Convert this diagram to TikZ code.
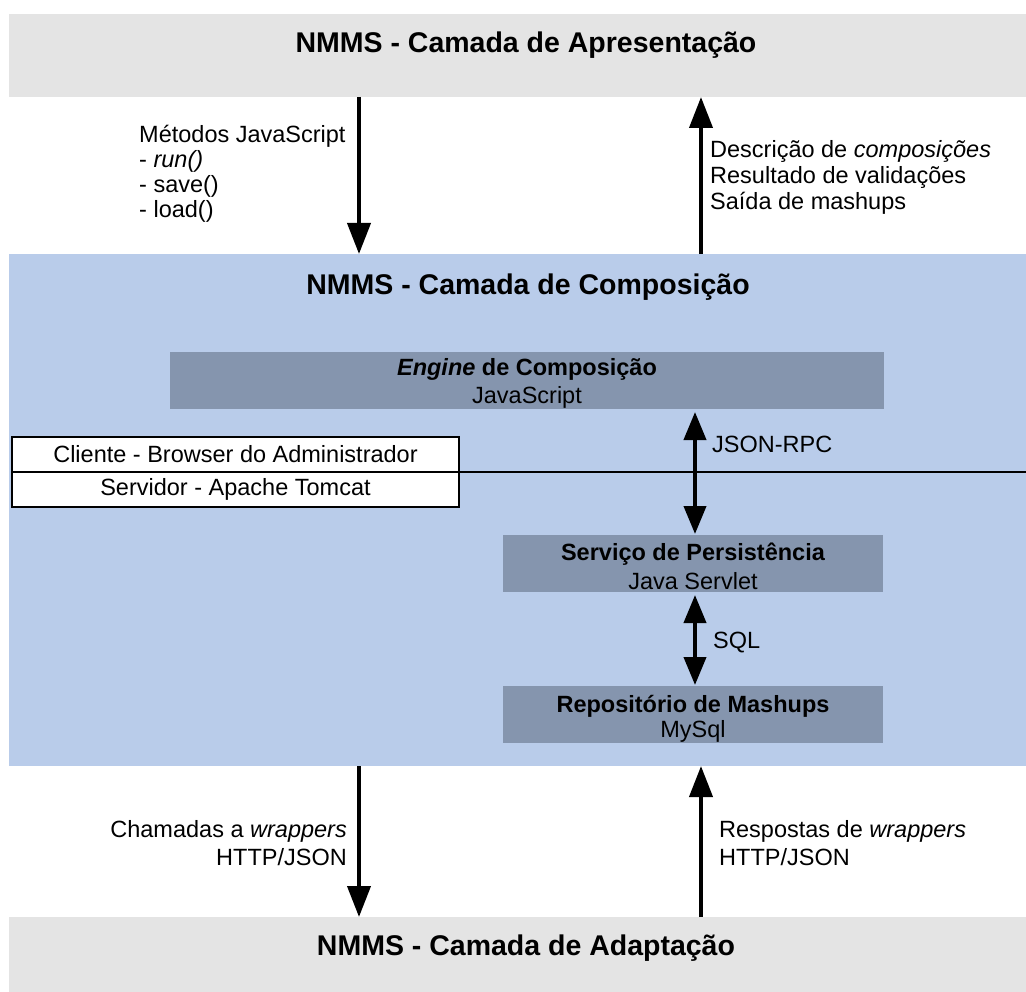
\documentclass[tikz,border=0pt]{standalone}
\usepackage{fontspec}
\setmainfont{Liberation Sans}
\usetikzlibrary{arrows.meta}
\definecolor{bandgray}{RGB}{228,228,228}
\definecolor{bandblue}{RGB}{185,204,234}
\definecolor{boxslate}{RGB}{133,149,174}
\begin{document}
\begin{tikzpicture}[x=1pt,y=-1pt,
  rectbox/.style={draw=none,inner sep=0pt,outer sep=0pt,anchor=north west},
  cellbox/.style={draw=black,line width=1.8pt,fill=white,inner sep=0pt,outer sep=0pt,
    anchor=north west,minimum width=447pt,minimum height=35pt,
    font=\fontsize{23.5}{25}\selectfont},
  title/.style={anchor=base,inner sep=0pt,font=\fontsize{28.5}{32}\selectfont\bfseries},
  txt/.style={anchor=base,inner sep=0pt,font=\fontsize{23.5}{25}\selectfont},
  txtb/.style={txt,font=\fontsize{23.5}{25}\selectfont\bfseries},
  lbl/.style={inner sep=0pt,font=\fontsize{23.5}{25}\selectfont},
  bigarrow/.style={line width=4pt,-{Triangle[width=23pt,length=31pt]}},
  duplex/.style={line width=4pt,{Triangle[width=22pt,length=28pt]}-{Triangle[width=22pt,length=28pt]},shorten <=3pt,shorten >=1pt}]
\useasboundingbox (0,0) rectangle (1026,992);

% layer bands
\node[rectbox,fill=bandgray,minimum width=1017pt,minimum height=83pt] (pres) at (9,14) {};
\node[rectbox,fill=bandblue,minimum width=1017pt,minimum height=512pt] (comp) at (9,254) {};
\node[rectbox,fill=bandgray,minimum width=1017pt,minimum height=75pt] (adap) at (9,917) {};

\node[title] (presT) at (526,53) {NMMS - Camada de Apresentação};
\node[title] (compT) at (528,295) {NMMS - Camada de Composição};
\node[title] (adapT) at (526,955) {NMMS - Camada de Adaptação};

% components inside the composition layer
\node[rectbox,fill=boxslate,minimum width=714pt,minimum height=57pt] (eng) at (170,352) {};
\node[rectbox,fill=boxslate,minimum width=380pt,minimum height=57pt] (serv) at (503,535) {};
\node[rectbox,fill=boxslate,minimum width=380pt,minimum height=57pt] (repo) at (503,686) {};

\node[txtb] (engA) at (527,376) {\textit{Engine} de Composição};
\node[txt]  (engB) at (527,403) {JavaScript};
\node[txtb] (servA) at (693,560) {Serviço de Persistência};
\node[txt]  (servB) at (693,589) {Java Servlet};
\node[txtb] (repoA) at (693,712) {Repositório de Mashups};
\node[txt]  (repoB) at (693,737) {MySql};

% client / server split
\node[cellbox] (cli) at (12,437) {Cliente - Browser do Administrador};
\node[cellbox] (srv) at (12,472) {Servidor - Apache Tomcat};
\draw[line width=1.6pt] (cli.south east) -- (cli.south east -| comp.east);

% arrows between layers
\coordinate (xl) at (359,0);
\coordinate (xr) at (701,0);
\coordinate (xi) at (695,0);
\draw[bigarrow] (pres.south -| xl) -- (comp.north -| xl);
\draw[bigarrow] (comp.north -| xr) -- (pres.south -| xr);
\draw[bigarrow] (comp.south -| xl) -- (adap.north -| xl);
\draw[bigarrow] (adap.north -| xr) -- (comp.south -| xr);
\draw[duplex] (eng.south -| xi) -- (serv.north -| xi);
\draw[duplex] (serv.south -| xi) -- (repo.north -| xi);

% arrow labels
\node[lbl,anchor=base west] (m1) at (139,143) {Métodos JavaScript};
\node[lbl,anchor=base west] (m2) at (139,168) {- \textit{run()}};
\node[lbl,anchor=base west] (m3) at (139,193) {- save()};
\node[lbl,anchor=base west] (m4) at (139,218) {- load()};

\node[lbl,anchor=base west] (d1) at (710,158) {Descrição de \textit{composições}};
\node[lbl,anchor=base west] (d2) at (710,184) {Resultado de validações};
\node[lbl,anchor=base west] (d3) at (710,210) {Saída de mashups};

\node[lbl,anchor=base west] (rpc) at (712,452) {JSON-RPC};
\node[lbl,anchor=base west] (sql) at (713,648) {SQL};

\node[lbl,anchor=base east] (c1) at (347,837) {Chamadas a \textit{wrappers}};
\node[lbl,anchor=base east] (c2) at (347,865) {HTTP/JSON};
\node[lbl,anchor=base west] (r1) at (719,837) {Respostas de \textit{wrappers}};
\node[lbl,anchor=base west] (r2) at (719,865) {HTTP/JSON};
\end{tikzpicture}
\end{document}
